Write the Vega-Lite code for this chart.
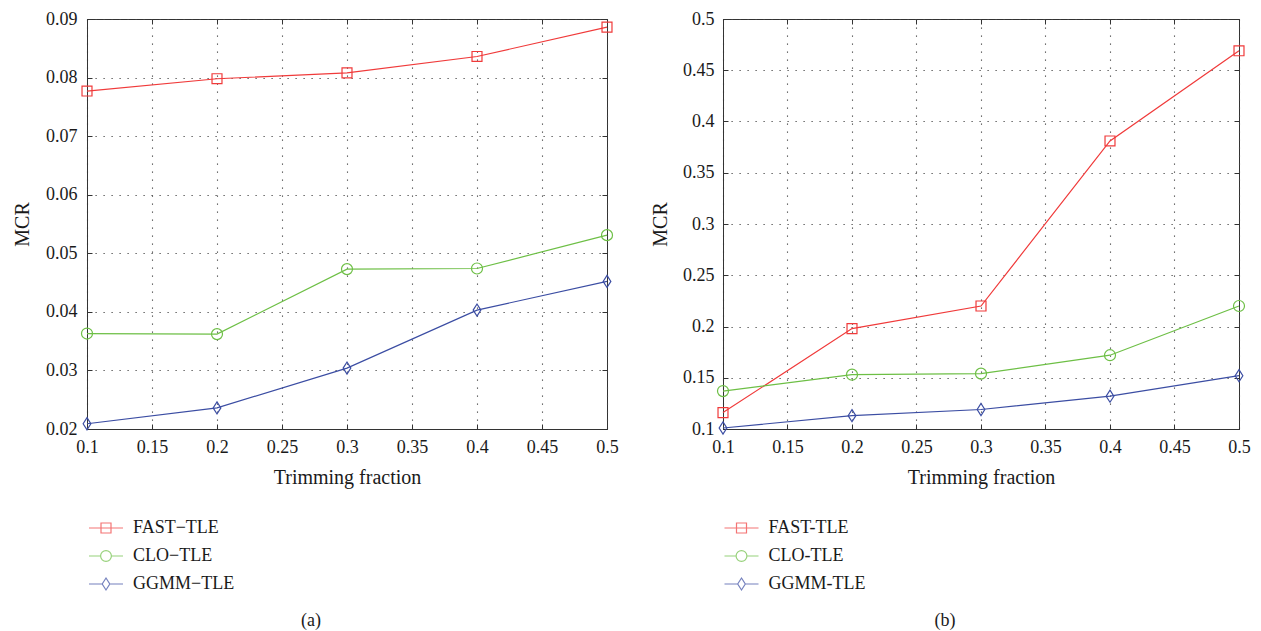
{
  "$schema": "https://vega.github.io/schema/vega-lite/v6.json",
  "padding": {"left": 12, "top": 9, "right": 5, "bottom": 5},
  "background": "white",
  "spacing": 31,
  "resolve": {"scale": {"color": "independent", "shape": "independent"}, "legend": {"color": "independent", "shape": "independent"}},
  "config": {
    "view": {"stroke": "#333", "strokeWidth": 1},
    "font": "Liberation Serif",
    "axis": {
      "labelFont": "Liberation Serif", "labelFontSize": 18, "labelColor": "#1a1a1a",
      "titleFont": "Liberation Serif", "titleFontSize": 20, "titleFontWeight": "normal", "titleColor": "#1a1a1a",
      "domainColor": "#333", "tickColor": "#333", "tickSize": -5, "tickWidth": 1,
      "gridColor": "#444", "gridDash": [1.2, 6.8], "gridWidth": 1.1, "gridOpacity": 1
    },
    "legend": {
      "title": null, "orient": "none", "padding": 0, "symbolSize": 400, "symbolStrokeWidth": 1.2,
      "labelFont": "Liberation Serif", "labelFontSize": 18, "labelColor": "#1a1a1a", "labelOffset": 16, "rowPadding": 8
    }
  },
  "hconcat": [
    {
      "width": 520, "height": 410,
      "title": {"text": "(a)", "orient": "bottom", "frame": "group", "anchor": "middle", "dx": -36, "offset": 19, "font": "Liberation Serif", "fontSize": 18, "fontWeight": "normal", "color": "#1a1a1a"},
      "data": {"values": [
        {"x": 0.1, "mcr": 0.0777, "method": "FAST−TLE"},
        {"x": 0.2, "mcr": 0.0798, "method": "FAST−TLE"},
        {"x": 0.3, "mcr": 0.0808, "method": "FAST−TLE"},
        {"x": 0.4, "mcr": 0.0836, "method": "FAST−TLE"},
        {"x": 0.5, "mcr": 0.0886, "method": "FAST−TLE"},
        {"x": 0.1, "mcr": 0.0363, "method": "CLO−TLE"},
        {"x": 0.2, "mcr": 0.0362, "method": "CLO−TLE"},
        {"x": 0.3, "mcr": 0.0473, "method": "CLO−TLE"},
        {"x": 0.4, "mcr": 0.0474, "method": "CLO−TLE"},
        {"x": 0.5, "mcr": 0.0531, "method": "CLO−TLE"},
        {"x": 0.1, "mcr": 0.0209, "method": "GGMM−TLE"},
        {"x": 0.2, "mcr": 0.0236, "method": "GGMM−TLE"},
        {"x": 0.3, "mcr": 0.0304, "method": "GGMM−TLE"},
        {"x": 0.4, "mcr": 0.0403, "method": "GGMM−TLE"},
        {"x": 0.5, "mcr": 0.0452, "method": "GGMM−TLE"}
      ]},
      "encoding": {
        "x": {"field": "x", "type": "quantitative", "scale": {"domain": [0.1, 0.5], "nice": false, "zero": false}, "axis": null},
        "y": {"field": "mcr", "type": "quantitative", "scale": {"domain": [0.02, 0.09], "nice": false, "zero": false}, "axis": null}
      },
      "layer": [
        {"mark": {"type": "line", "strokeWidth": 1.2},
         "encoding": {
           "x": {"field": "x", "type": "quantitative",
                 "axis": {"title": "Trimming fraction", "values": [0.1, 0.15, 0.2, 0.25, 0.3, 0.35, 0.4, 0.45, 0.5], "format": "~g", "labelPadding": 14, "titlePadding": 11, "grid": true, "labelFlush": false}},
           "y": {"field": "mcr", "type": "quantitative",
                 "axis": {"title": "MCR", "values": [0.02, 0.03, 0.04, 0.05, 0.06, 0.07, 0.08, 0.09], "format": "~g", "labelPadding": 15, "titlePadding": 13, "grid": true, "labelFlush": false}},
           "color": {"field": "method", "type": "nominal",
                     "scale": {"domain": ["FAST−TLE", "CLO−TLE", "GGMM−TLE"], "range": ["#f03a3a", "#6dbf45", "#3b4da3"]},
                     "legend": {"legendX": 8, "legendY": 498}}
         }},
        {"transform": [{"filter": "false"}],
         "mark": {"type": "point", "filled": false, "strokeWidth": 1.2},
         "encoding": {
           "color": {"field": "method", "type": "nominal", "legend": {"legendX": 8, "legendY": 498}},
           "shape": {"field": "method", "type": "nominal",
                     "scale": {"domain": ["FAST−TLE", "CLO−TLE", "GGMM−TLE"], "range": ["M-1.7,0H1.7M-0.5,-0.5H0.5V0.5H-0.5Z", "M-1.7,0H-0.54M0.54,0H1.7M0.54,0A0.54,0.54,0,1,1,-0.54,0A0.54,0.54,0,1,1,0.54,0", "M-1.7,0H-0.38M0.38,0H1.7M0,-0.6L0.38,0L0,0.6L-0.38,0Z"]},
                     "legend": {"legendX": 8, "legendY": 498}}
         }},
        {"transform": [{"filter": {"field": "method", "equal": "FAST−TLE"}}],
         "mark": {"type": "point", "filled": false, "size": 110, "strokeWidth": 1.2, "opacity": 1, "shape": "M-0.95,-0.95H0.95V0.95H-0.95Z", "color": "#f03a3a"},
         "encoding": {
           "x": {"field": "x", "type": "quantitative", "axis": {"orient": "top", "title": null, "labels": false, "grid": false, "domain": false, "values": [0.1, 0.15, 0.2, 0.25, 0.3, 0.35, 0.4, 0.45, 0.5]}},
           "y": {"field": "mcr", "type": "quantitative", "axis": {"orient": "right", "title": null, "labels": false, "grid": false, "domain": false, "values": [0.02, 0.03, 0.04, 0.05, 0.06, 0.07, 0.08, 0.09]}}
         }},
        {"transform": [{"filter": {"field": "method", "equal": "CLO−TLE"}}],
         "mark": {"type": "point", "filled": false, "size": 121, "strokeWidth": 1.2, "opacity": 1, "shape": "circle", "color": "#6dbf45"}},
        {"transform": [{"filter": {"field": "method", "equal": "GGMM−TLE"}}],
         "mark": {"type": "point", "filled": false, "size": 121, "strokeWidth": 1.2, "opacity": 1, "shape": "M0,-1.1L0.7,0L0,1.1L-0.7,0Z", "color": "#3b4da3"}}
      ],
      "resolve": {"axis": {"x": "independent", "y": "independent"}}
    },
    {
      "width": 516, "height": 410,
      "title": {"text": "(b)", "orient": "bottom", "frame": "group", "anchor": "middle", "dx": -36, "offset": 19, "font": "Liberation Serif", "fontSize": 18, "fontWeight": "normal", "color": "#1a1a1a"},
      "data": {"values": [
        {"x": 0.1, "mcr": 0.116, "method": "FAST-TLE"},
        {"x": 0.2, "mcr": 0.198, "method": "FAST-TLE"},
        {"x": 0.3, "mcr": 0.22, "method": "FAST-TLE"},
        {"x": 0.4, "mcr": 0.381, "method": "FAST-TLE"},
        {"x": 0.5, "mcr": 0.469, "method": "FAST-TLE"},
        {"x": 0.1, "mcr": 0.137, "method": "CLO-TLE"},
        {"x": 0.2, "mcr": 0.153, "method": "CLO-TLE"},
        {"x": 0.3, "mcr": 0.154, "method": "CLO-TLE"},
        {"x": 0.4, "mcr": 0.172, "method": "CLO-TLE"},
        {"x": 0.5, "mcr": 0.22, "method": "CLO-TLE"},
        {"x": 0.1, "mcr": 0.101, "method": "GGMM-TLE"},
        {"x": 0.2, "mcr": 0.113, "method": "GGMM-TLE"},
        {"x": 0.3, "mcr": 0.119, "method": "GGMM-TLE"},
        {"x": 0.4, "mcr": 0.132, "method": "GGMM-TLE"},
        {"x": 0.5, "mcr": 0.152, "method": "GGMM-TLE"}
      ]},
      "encoding": {
        "x": {"field": "x", "type": "quantitative", "scale": {"domain": [0.1, 0.5], "nice": false, "zero": false}, "axis": null},
        "y": {"field": "mcr", "type": "quantitative", "scale": {"domain": [0.1, 0.5], "nice": false, "zero": false}, "axis": null}
      },
      "layer": [
        {"mark": {"type": "line", "strokeWidth": 1.2},
         "encoding": {
           "x": {"field": "x", "type": "quantitative",
                 "axis": {"title": "Trimming fraction", "values": [0.1, 0.15, 0.2, 0.25, 0.3, 0.35, 0.4, 0.45, 0.5], "format": "~g", "labelPadding": 14, "titlePadding": 11, "grid": true, "labelFlush": false}},
           "y": {"field": "mcr", "type": "quantitative",
                 "axis": {"title": "MCR", "values": [0.1, 0.15, 0.2, 0.25, 0.3, 0.35, 0.4, 0.45, 0.5], "format": "~g", "labelPadding": 14, "titlePadding": 12, "grid": true, "labelFlush": false}},
           "color": {"field": "method", "type": "nominal",
                     "scale": {"domain": ["FAST-TLE", "CLO-TLE", "GGMM-TLE"], "range": ["#f03a3a", "#6dbf45", "#3b4da3"]},
                     "legend": {"legendX": 7.5, "legendY": 498}}
         }},
        {"transform": [{"filter": "false"}],
         "mark": {"type": "point", "filled": false, "strokeWidth": 1.2},
         "encoding": {
           "color": {"field": "method", "type": "nominal", "legend": {"legendX": 7.5, "legendY": 498}},
           "shape": {"field": "method", "type": "nominal",
                     "scale": {"domain": ["FAST-TLE", "CLO-TLE", "GGMM-TLE"], "range": ["M-1.7,0H1.7M-0.5,-0.5H0.5V0.5H-0.5Z", "M-1.7,0H-0.54M0.54,0H1.7M0.54,0A0.54,0.54,0,1,1,-0.54,0A0.54,0.54,0,1,1,0.54,0", "M-1.7,0H-0.38M0.38,0H1.7M0,-0.6L0.38,0L0,0.6L-0.38,0Z"]},
                     "legend": {"legendX": 7.5, "legendY": 498}}
         }},
        {"transform": [{"filter": {"field": "method", "equal": "FAST-TLE"}}],
         "mark": {"type": "point", "filled": false, "size": 110, "strokeWidth": 1.2, "opacity": 1, "shape": "M-0.95,-0.95H0.95V0.95H-0.95Z", "color": "#f03a3a"},
         "encoding": {
           "x": {"field": "x", "type": "quantitative", "axis": {"orient": "top", "title": null, "labels": false, "grid": false, "domain": false, "values": [0.1, 0.15, 0.2, 0.25, 0.3, 0.35, 0.4, 0.45, 0.5]}},
           "y": {"field": "mcr", "type": "quantitative", "axis": {"orient": "right", "title": null, "labels": false, "grid": false, "domain": false, "values": [0.1, 0.15, 0.2, 0.25, 0.3, 0.35, 0.4, 0.45, 0.5]}}
         }},
        {"transform": [{"filter": {"field": "method", "equal": "CLO-TLE"}}],
         "mark": {"type": "point", "filled": false, "size": 121, "strokeWidth": 1.2, "opacity": 1, "shape": "circle", "color": "#6dbf45"}},
        {"transform": [{"filter": {"field": "method", "equal": "GGMM-TLE"}}],
         "mark": {"type": "point", "filled": false, "size": 121, "strokeWidth": 1.2, "opacity": 1, "shape": "M0,-1.1L0.7,0L0,1.1L-0.7,0Z", "color": "#3b4da3"}}
      ],
      "resolve": {"axis": {"x": "independent", "y": "independent"}}
    }
  ]
}
